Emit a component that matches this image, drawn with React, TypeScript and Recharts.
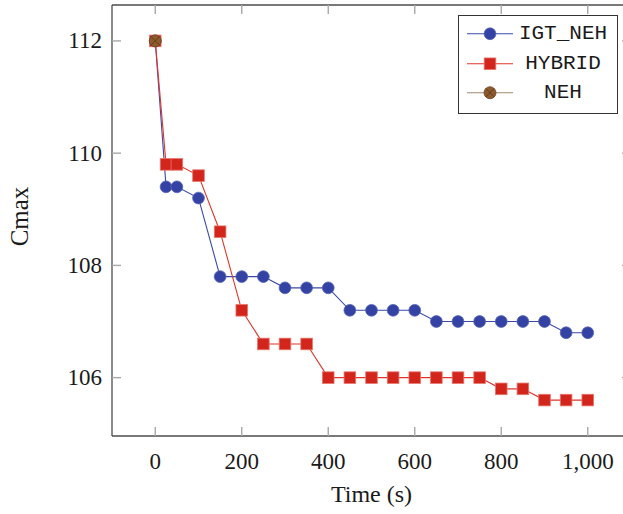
import { LineChart, Line, XAxis, YAxis, Legend } from 'recharts';

// sampling times (s) shared by both heuristics
const times = [0, 25, 50, 100, 150, 200, 250, 300, 350, 400, 450, 500, 550, 600, 650, 700, 750, 800, 850, 900, 950, 1000];
const igtNeh = [112, 109.4, 109.4, 109.2, 107.8, 107.8, 107.8, 107.6, 107.6, 107.6, 107.2, 107.2, 107.2, 107.2, 107, 107, 107, 107, 107, 107, 106.8, 106.8];
const hybrid = [112, 109.8, 109.8, 109.6, 108.6, 107.2, 106.6, 106.6, 106.6, 106, 106, 106, 106, 106, 106, 106, 106, 105.8, 105.8, 105.6, 105.6, 105.6];
const nehTimes = [0];
const neh = [112];

const xTicks = [0, 200, 400, 600, 800, 1000];
const yTicks = [106, 108, 110, 112];

const BLUE = '#3442a3';
const RED = '#d2261c';
const BROWN = '#8c5a2c';

const AXIS_COLOR = '#4d4d4d';
const TICK_COLOR = '#a8a8a8';
const TICK_LEN = 9;
const LABEL_GAP = 10;
const SERIF = '"Liberation Serif", "Times New Roman", serif';
const MONO = '"Liberation Mono", "DejaVu Sans Mono", monospace';

type Pt = { x: number; y: number };
const toPoints = (xs: number[], ys: number[]): Pt[] => xs.map((x, i) => ({ x, y: ys[i] }));

type Marker = 'circle' | 'square' | 'crossed';
const series: { name: string; data: Pt[]; color: string; line: string; marker: Marker }[] = [
  { name: 'IGT_NEH', data: toPoints(times, igtNeh), color: BLUE, line: '#3a4aab', marker: 'circle' },
  { name: 'HYBRID', data: toPoints(times, hybrid), color: RED, line: '#e0352a', marker: 'square' },
  { name: 'NEH', data: toPoints(nehTimes, neh), color: BROWN, line: '#a2896f', marker: 'crossed' },
];

function MarkerShape({ cx, cy, kind, color }: { cx: number; cy: number; kind: Marker; color: string }) {
  if (kind === 'square') {
    return <rect x={cx - 5.8} y={cy - 5.8} width={11.6} height={11.6} fill={color} stroke="#e8756c" strokeWidth={0.8} />;
  }
  if (kind === 'crossed') {
    const d = 4.2;
    return (
      <g>
        <circle cx={cx} cy={cy} r={6} fill={color} stroke="#6b4322" strokeWidth={0.8} />
        <line x1={cx - d} y1={cy - d} x2={cx + d} y2={cy + d} stroke="#5a3818" strokeWidth={0.8} />
        <line x1={cx - d} y1={cy + d} x2={cx + d} y2={cy - d} stroke="#5a3818" strokeWidth={0.8} />
      </g>
    );
  }
  return <circle cx={cx} cy={cy} r={5.9} fill={color} stroke="#5564b8" strokeWidth={0.8} />;
}

const fmtThousands = (v: number) => v.toLocaleString('en-US');

function BottomTick(props: any) {
  const { x, y, payload } = props;
  const axisY = y - LABEL_GAP;
  return (
    <g>
      <line x1={x} x2={x} y1={axisY} y2={axisY - TICK_LEN} stroke={TICK_COLOR} strokeWidth={1.4} />
      <text x={x} y={axisY + 33} textAnchor="middle" fontFamily={SERIF} fontSize={23} fill="#1a1a1a">
        {fmtThousands(payload.value)}
      </text>
    </g>
  );
}

function LeftTick(props: any) {
  const { x, y, payload } = props;
  const axisX = x + LABEL_GAP;
  return (
    <g>
      <line x1={axisX} x2={axisX + TICK_LEN} y1={y} y2={y} stroke={TICK_COLOR} strokeWidth={1.4} />
      <text x={x} y={y + 7.5} textAnchor="end" fontFamily={SERIF} fontSize={23} fill="#1a1a1a">
        {payload.value}
      </text>
    </g>
  );
}

function TopTick(props: any) {
  const { x, y } = props;
  return <line x1={x} x2={x} y1={y} y2={y + TICK_LEN} stroke={TICK_COLOR} strokeWidth={1.4} />;
}

function RightTick(props: any) {
  const { x, y } = props;
  return <line x1={x} x2={x - TICK_LEN} y1={y} y2={y} stroke={TICK_COLOR} strokeWidth={1.4} />;
}

function LegendBox() {
  return (
    <div style={{ border: '1px solid #333', background: '#fff', width: 158, paddingTop: 3, paddingBottom: 5, fontFamily: MONO, fontSize: 21, color: '#1a1a1a' }}>
      {series.map((s) => (
        <div key={s.name} style={{ position: 'relative', height: 29.5 }}>
          <svg width={60} height={29.5} style={{ position: 'absolute', left: 0, top: 0 }}>
            <line x1={8} x2={54} y1={14.75} y2={14.75} stroke={s.line} strokeWidth={1.2} />
            <MarkerShape cx={31} cy={14.75} kind={s.marker} color={s.color} />
          </svg>
          <span style={{ position: 'absolute', left: 58, width: 92, top: 0, lineHeight: '29.5px', textAlign: 'center' }}>{s.name}</span>
        </div>
      ))}
    </div>
  );
}

export default function App() {
  return (
    <div style={{ position: 'fixed', left: 0, top: 0, width: 623, height: 514, overflow: 'hidden', background: '#fff' }}>
      <LineChart width={680} height={514} margin={{ top: 0, right: 0, bottom: 0, left: 0 }}>
        <XAxis
          xAxisId="bottom"
          dataKey="x"
          type="number"
          domain={[-100, 1100]}
          ticks={xTicks}
          allowDataOverflow
          height={78}
          tickSize={0}
          tickMargin={LABEL_GAP}
          tick={<BottomTick />}
          axisLine={{ stroke: AXIS_COLOR, strokeWidth: 1.3 }}
          label={{
            content: (p: any) => (
              <text x={p.viewBox.x + p.viewBox.width / 2} y={p.viewBox.y + 66} textAnchor="middle" fontFamily={SERIF} fontSize={24} fill="#1a1a1a">
                Time (s)
              </text>
            ),
          }}
        />
        <XAxis
          xAxisId="top"
          orientation="top"
          dataKey="x"
          type="number"
          domain={[-100, 1100]}
          ticks={xTicks}
          allowDataOverflow
          height={5}
          tickSize={0}
          tickMargin={0}
          tick={<TopTick />}
          axisLine={{ stroke: AXIS_COLOR, strokeWidth: 1.3 }}
        />
        <YAxis
          yAxisId="left"
          type="number"
          domain={[104.96, 112.64]}
          ticks={yTicks}
          allowDataOverflow
          width={112}
          tickSize={0}
          tickMargin={LABEL_GAP}
          tick={<LeftTick />}
          axisLine={{ stroke: AXIS_COLOR, strokeWidth: 1.3 }}
          label={{
            content: (p: any) => {
              const cx = p.viewBox.x + 28;
              const cy = p.viewBox.y + p.viewBox.height / 2 - 4;
              return (
                <text x={cx} y={cy} transform={`rotate(-90 ${cx} ${cy})`} textAnchor="middle" fontFamily={SERIF} fontSize={25} fill="#1a1a1a">
                  Cmax
                </text>
              );
            },
          }}
        />
        <YAxis
          yAxisId="right"
          orientation="right"
          type="number"
          domain={[104.96, 112.64]}
          ticks={yTicks}
          allowDataOverflow
          width={49}
          tickSize={0}
          tickMargin={0}
          tick={<RightTick />}
          axisLine={{ stroke: AXIS_COLOR, strokeWidth: 1.3 }}
        />
        {series.map((s) => (
          <Line
            key={s.name}
            xAxisId="bottom"
            yAxisId="left"
            data={s.data}
            dataKey="y"
            name={s.name}
            type="linear"
            stroke={s.line}
            strokeWidth={1.1}
            isAnimationActive={false}
            dot={(p: any) => <MarkerShape key={`${s.name}-${p.index}`} cx={p.cx} cy={p.cy} kind={s.marker} color={s.color} />}
            activeDot={false}
          />
        ))}
        <Legend
          layout="vertical"
          align="center"
          verticalAlign="middle"
          wrapperStyle={{ left: 458, top: 15, width: 160 }}
          content={() => <LegendBox />}
        />
      </LineChart>
    </div>
  );
}
